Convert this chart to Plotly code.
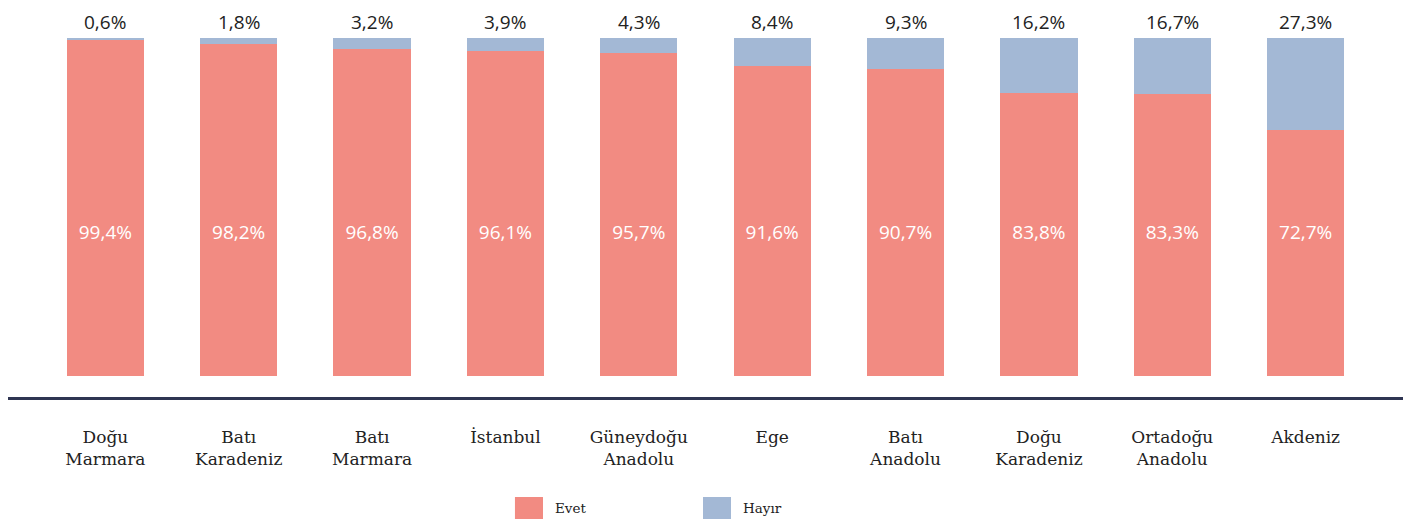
import plotly.graph_objects as go

categories = ["Doğu<br>Marmara", "Batı<br>Karadeniz", "Batı<br>Marmara", "İstanbul",
              "Güneydoğu<br>Anadolu", "Ege", "Batı<br>Anadolu", "Doğu<br>Karadeniz",
              "Ortadoğu<br>Anadolu", "Akdeniz"]
evet = [99.4, 98.2, 96.8, 96.1, 95.7, 91.6, 90.7, 83.8, 83.3, 72.7]
hayir = [0.6, 1.8, 3.2, 3.9, 4.3, 8.4, 9.3, 16.2, 16.7, 27.3]
series_names = ["Evet", "Hayır"]

EVET_C = "#F28B82"
HAYIR_C = "#A3B8D5"
SERIF = "DejaVu Serif"
SANS = "Open Sans"

def fmt(v):
    return f"{v:.1f}".replace(".", ",") + "%"

totals = [a + b for a, b in zip(evet, hayir)]
label_y = 42

fig = go.Figure()
fig.add_trace(go.Bar(x=categories, y=evet, name=series_names[0],
                     marker=dict(color=EVET_C, line=dict(width=0)),
                     width=0.58, showlegend=False, hoverinfo="skip"))
fig.add_trace(go.Bar(x=categories, y=hayir, name=series_names[1],
                     marker=dict(color=HAYIR_C, line=dict(width=0)),
                     width=0.58, showlegend=False, hoverinfo="skip"))
fig.add_trace(go.Scatter(x=categories, y=[label_y] * len(categories), mode="text",
                         text=[fmt(v) for v in evet], textposition="middle center",
                         textfont=dict(family=SANS, size=19, color="white"),
                         showlegend=False, hoverinfo="skip", cliponaxis=False))

for c, t, h in zip(categories, totals, hayir):
    fig.add_annotation(x=c, y=t, text=fmt(h), showarrow=False, yanchor="middle",
                       yshift=16, font=dict(family=SANS, size=19, color="#222222"))

# manual legend (large swatches as in the reference)
legend_items = [(series_names[0], EVET_C, 0.3634), (series_names[1], HAYIR_C, 0.4982)]
for name, col, x0 in legend_items:
    fig.add_shape(type="rect", xref="paper", yref="paper", x0=x0, x1=x0 + 0.0201,
                  y0=-0.3426, y1=-0.2786, fillcolor=col, line=dict(width=0))
    fig.add_annotation(xref="paper", yref="paper", x=x0 + 0.0273, y=-0.3092,
                       text=name, showarrow=False, xanchor="left", yanchor="middle",
                       font=dict(family=SERIF, size=13.5, color="#222222"))

fig.update_layout(
    width=1405, height=511,
    autosize=False,
    barmode="stack",
    plot_bgcolor="white", paper_bgcolor="white",
    margin=dict(l=0, r=10, t=30, b=122, pad=0),
    xaxis=dict(range=[-0.73, 9.73], showline=True, linecolor="#2F3552", linewidth=2.5,
               ticks="outside", ticklen=23, tickcolor="rgba(0,0,0,0)",
               tickfont=dict(family=SERIF, size=17, color="#222222"),
               showgrid=False, zeroline=False, fixedrange=True, automargin=False),
    yaxis=dict(range=[-6.2, 100], visible=False, showgrid=False, zeroline=False,
               automargin=False),
    showlegend=False,
)

fig.write_html("out.html")
